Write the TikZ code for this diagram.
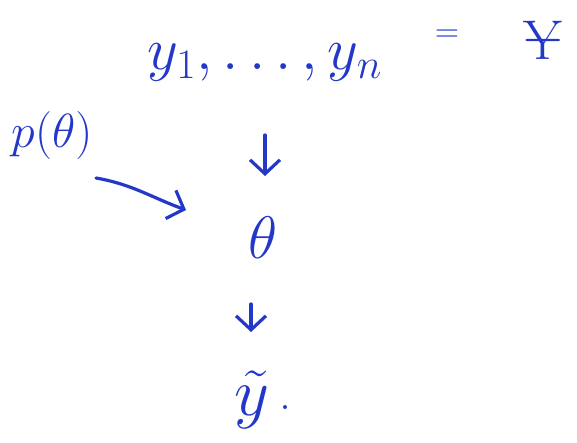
\documentclass[tikz,border=0pt]{standalone}
\usepackage{fix-cm}
\usepackage{fontspec}
\usetikzlibrary{arrows.meta}
\definecolor{ink}{RGB}{35,55,200}
\begin{document}
\begin{tikzpicture}[x=0.5pt,y=-0.5pt,
  every node/.style={text=ink,inner sep=1pt},
  conn/.style={draw=ink,line width=1.6pt,line cap=round,line join=round,
    -{Straight Barb[length=7pt,width=15pt,line width=1.6pt]}},
  big/.style={font=\fontsize{30}{36}\selectfont}]
\useasboundingbox (0,0) rectangle (577,443);
\node[big] (data) at (265,62) {$y_1,\dots,y_n$};
\node[font=\fontsize{16}{20}\selectfont] (eq) at (447,36) {$=$};
\node[font=\fontsize{28}{34}\selectfont,inner sep=0pt] (Y) at (543,40)
  {\ooalign{$\mathrm{Y}$\cr\hidewidth\raisebox{2.5pt}{$-$}\hidewidth}};
\node[font=\fontsize{24}{30}\selectfont] (prior) at (52,136) {$p(\theta)$};
\node[big] (theta) at (263,238) {$\theta$};
\node[font=\fontsize{34}{40}\selectfont] (yt) at (252,400) {$\tilde{y}$};
\node[font=\fontsize{24}{30}\selectfont] (dot) at (285,408) {.};
\coordinate (d0) at (265,135);
\coordinate (d1) at (265,176);
\coordinate (p0) at (96,178);
\coordinate (p1) at (186,210);
\coordinate (t0) at (251,304);
\coordinate (t1) at (251,332);
\draw[conn] (d0) -- (d1);
\draw[conn] (p0) to[out=-10,in=160] (p1);
\draw[conn] (t0) -- (t1);
\end{tikzpicture}
\end{document}
